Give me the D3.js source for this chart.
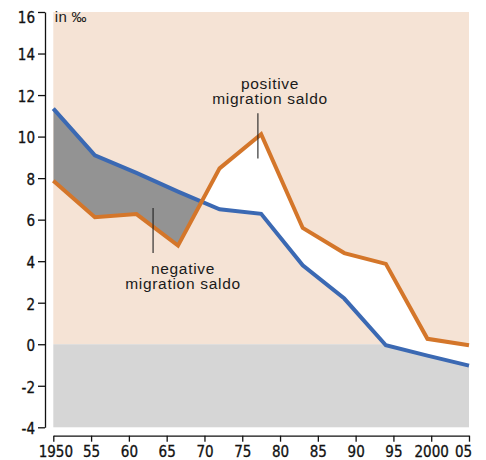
<!DOCTYPE html>
<html>
<head>
<meta charset="utf-8">
<script src="https://cdn.jsdelivr.net/npm/d3@7"></script>
<style>
  html, body { margin: 0; padding: 0; background: #fff; }
  svg { display: block; }
  .tick text { font-family: "Liberation Sans Narrow", "Arial Narrow", "DejaVu Sans Condensed", sans-serif; font-size: 15px; fill: #111; stroke: #111; stroke-width: 0.3px; }
  .ann { font-family: "Liberation Sans", Arial, sans-serif; font-size: 15.5px; fill: #1a1a1a; letter-spacing: 0.7px; }
</style>
</head>
<body>
<svg id="chart" width="486" height="460"></svg>
<script>
// ---- data ----
const years = [1950, 1955.5, 1961, 1966.5, 1972, 1977.5, 1983, 1988.5, 1994, 1999.5, 2005];
const blueSeries = [11.35, 9.1, 8.25, 7.35, 6.5, 6.28, 3.8, 2.2, -0.05, -0.55, -1.03];
const orangeSeries = [7.87, 6.12, 6.27, 4.75, 8.47, 10.12, 5.6, 4.39, 3.87, 0.26, -0.05];
const xTickValues = [1950, 1955, 1960, 1965, 1970, 1975, 1980, 1985, 1990, 1995, 2000, 2005];
const xTickLabels = ["1950", "55", "60", "65", "70", "75", "80", "85", "90", "95", "2000", "05"];
const yTickValues = [-4, -2, 0, 2, 4, 6, 8, 10, 12, 14, 16];
const unitLabel = "in ‰";
const annPositive = ["positive", "migration saldo"];
const annNegative = ["negative", "migration saldo"];

const C = {
  peach: "#f5e3d5", below: "#d6d6d6", fillNeg: "#939393", fillPos: "#ffffff",
  blue: "#3b69b3", orange: "#d4762a", axis: "#111"
};

const data = years.map((yr, i) => ({ yr, b: blueSeries[i], o: orangeSeries[i] }));

const svg = d3.select("#chart");
const x = d3.scaleLinear().domain([1950, 2005]).range([53.3, 469]);
const y = d3.scaleLinear().domain([-4, 16]).range([427.3, 12]);

const [x0, x1] = x.range();
const yTop = y(16), yBot = y(-4), yZero = y(0);

// backgrounds
svg.append("rect").attr("x", x0).attr("y", yTop).attr("width", x1 - x0).attr("height", yZero - yTop).attr("fill", C.peach);
svg.append("rect").attr("x", x0).attr("y", yZero).attr("width", x1 - x0).attr("height", yBot - yZero).attr("fill", C.below);

const defs = svg.append("defs");
defs.append("clipPath").attr("id", "belowBlue").append("path")
  .attr("d", d3.area().x(d => x(d.yr)).y0(yBot).y1(d => y(d.b))(data));
defs.append("clipPath").attr("id", "aboveBlue").append("path")
  .attr("d", d3.area().x(d => x(d.yr)).y0(yTop).y1(d => y(d.b))(data));

// negative saldo: above orange, below blue
svg.append("path")
  .attr("clip-path", "url(#belowBlue)")
  .attr("fill", C.fillNeg)
  .attr("d", d3.area().x(d => x(d.yr)).y0(yTop).y1(d => y(d.o))(data));
// positive saldo: below orange, above blue
svg.append("path")
  .attr("clip-path", "url(#aboveBlue)")
  .attr("fill", C.fillPos)
  .attr("d", d3.area().x(d => x(d.yr)).y0(yBot).y1(d => y(d.o))(data));

const line = key => d3.line().x(d => x(d.yr)).y(d => y(d[key]));
svg.append("path").attr("d", line("b")(data)).attr("fill", "none")
  .attr("stroke", C.blue).attr("stroke-width", 4).attr("stroke-linejoin", "miter");
svg.append("path").attr("d", line("o")(data)).attr("fill", "none")
  .attr("stroke", C.orange).attr("stroke-width", 4).attr("stroke-linejoin", "miter");

// axes
const yAxis = svg.append("g").attr("transform", "translate(45,0)")
  .call(d3.axisLeft(y).tickValues(yTickValues).tickSize(7).tickSizeOuter(0).tickPadding(3).tickFormat(d => d));
yAxis.selectAll("path, line").attr("stroke", C.axis).attr("stroke-width", 1.3);
yAxis.selectAll(".tick text").attr("dy", "0.42em")
  .filter(d => d === 16).attr("dy", "0.72em");

const xAxis = svg.append("g").attr("transform", "translate(0,435.7)")
  .call(d3.axisBottom(x).tickValues(xTickValues).tickSize(6).tickSizeOuter(0).tickPadding(5)
    .tickFormat((d, i) => xTickLabels[i]));
xAxis.selectAll("path, line").attr("stroke", C.axis).attr("stroke-width", 1.3);
xAxis.selectAll(".tick text")
  .attr("dx", d => d === 2005 ? -6 : d === 1950 ? 2 : 0);

// unit label
svg.append("text").attr("class", "ann").attr("x", x0 + 1.5).attr("y", 21.5)
  .style("font-size", "15px").style("letter-spacing", "0.3px").text(unitLabel);

// annotations
function annotate(lines, cx, by, lx, ly1, ly2) {
  lines.forEach((t, i) => {
    svg.append("text").attr("class", "ann").attr("text-anchor", "middle")
      .attr("x", cx).attr("y", by + i * 15.5).text(t);
  });
  svg.append("line").attr("x1", x(lx)).attr("x2", x(lx)).attr("y1", y(ly1)).attr("y2", y(ly2))
    .attr("stroke", "#222").attr("stroke-width", 1.1);
}
annotate(annPositive, 270, 88.5, 1977.07, 11.12, 8.95);
annotate(annNegative, 183, 273.5, 1963.2, 6.56, 4.39);
</script>
</body>
</html>
